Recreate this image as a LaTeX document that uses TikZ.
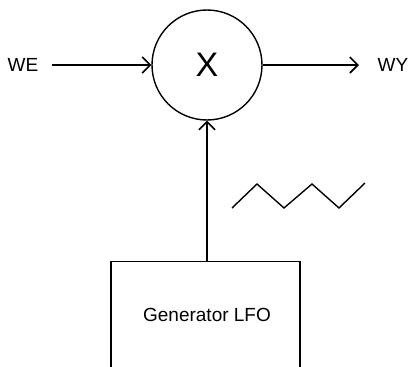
\documentclass[tikz,border=0pt]{standalone}
\usepackage{fontspec}
\setmainfont{Liberation Sans}
\usetikzlibrary{arrows.meta}
\begin{document}
\begin{tikzpicture}[x=1pt,y=-1pt,
  line/.style={line width=1.4pt},
  arr/.style={line, -{Straight Barb[length=8pt,width=16pt,line width=1.6pt]}},
  lbl/.style={font=\fontsize{19}{21}\selectfont, inner sep=0pt}]
\useasboundingbox (0,0) rectangle (408,367);
\node[draw, line, circle, minimum size=110pt, inner sep=0pt,
      font=\fontsize{34}{36}\selectfont] (mul) at (207,65) {X};
\node[lbl] (we) at (23,65) {WE};
\node[lbl] (wy) at (393,65) {WY};
\coordinate (weend) at (52,65);
\coordinate (wyend) at (359,65);
\node[draw, line, minimum width=189pt, minimum height=130pt, anchor=north, inner sep=0pt] (gen) at (205.5,261) {};
\node[lbl] (gentext) at (207,315) {Generator LFO};
\draw[arr] (weend) -- (mul.west);
\draw[arr] (mul.east) -- (wyend);
\draw[arr] (mul.south |- gen.north) -- (mul.south);
\draw[line] (232,208) -- (257,184) -- (284,208) -- (312,184) -- (339,208) -- (365,183);
\end{tikzpicture}
\end{document}
